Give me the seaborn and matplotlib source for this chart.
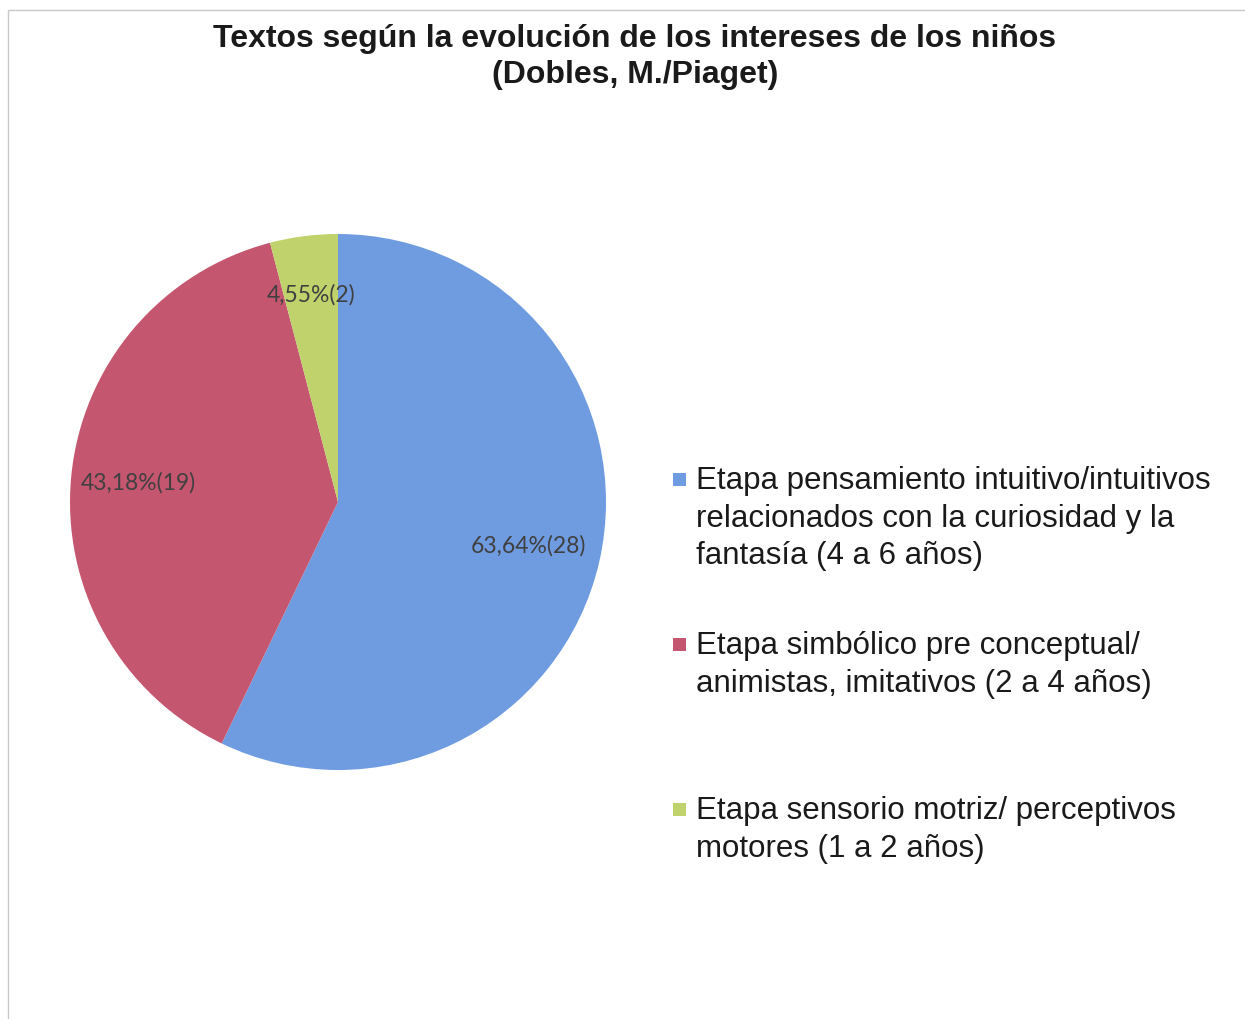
import numpy as np
import matplotlib
matplotlib.use("Agg")
import matplotlib.pyplot as plt
from matplotlib.patches import Rectangle
import seaborn as sns

# data
categories = [
    "Etapa pensamiento intuitivo/intuitivos\nrelacionados con la curiosidad y la\nfantasía (4 a 6 años)",
    "Etapa simbólico pre conceptual/\nanimistas, imitativos (2 a 4 años)",
    "Etapa sensorio motriz/ perceptivos\nmotores (1 a 2 años)",
]
counts = [28, 19, 2]
pct_labels = ["63,64%(28)", "43,18%(19)", "4,55%(2)"]
colors = ["#6f9ce0", "#c5566f", "#bfd26b"]

sns.set_theme(style="white")
plt.rcParams['font.family'] = ['Liberation Sans', 'DejaVu Sans']

W, H = 1245, 1019
fig = plt.figure(figsize=(W / 100, H / 100), dpi=100)

# outer chart border
fig.patches.append(Rectangle((8 / W, -0.01), 1.0, 1 - 10 / H + 0.01,
                             transform=fig.transFigure, fill=False,
                             edgecolor="#c8c8c8", linewidth=1.0))

ax = fig.add_axes([70 / W, 1 - 770 / H, 536 / W, 536 / H])
wedges, _ = ax.pie(counts, colors=colors, startangle=90, counterclock=False,
                   radius=1.0, wedgeprops=dict(linewidth=0))
ax.set_xlim(-1, 1)
ax.set_ylim(-1, 1)
ax.set_aspect("equal")
ax.axis("off")

label_r = [0.73, 0.75, 0.78]
for w, txt, r in zip(wedges, pct_labels, label_r):
    mid = np.deg2rad((w.theta1 + w.theta2) / 2)
    ax.text(r * np.cos(mid), r * np.sin(mid), txt, ha="center", va="center",
            fontsize=16.5, color="#404040", family=["Lato", "DejaVu Sans"])

fig.text(0.51, 1 - 57 / H,
         "Textos según la evolución de los intereses de los niños\n(Dobles, M./Piaget)",
         ha="center", va="center", fontsize=23, fontweight="bold",
         linespacing=1.3, color="#1a1a1a")

# legend, each marker beside the first line of its entry
x_sq, x_txt = 673 / W, 696 / W
for i, (lab, col) in enumerate(zip(categories, colors)):
    y_top = 466 + 165 * i
    fig.patches.append(Rectangle((x_sq, 1 - (y_top + 20) / H), 13 / W, 13 / H,
                                 transform=fig.transFigure, facecolor=col,
                                 edgecolor="none"))
    fig.text(x_txt, 1 - y_top / H, lab, ha="left", va="top", fontsize=22.5,
             linespacing=1.33, color="#1a1a1a")

fig.savefig("out.png", dpi=100)
